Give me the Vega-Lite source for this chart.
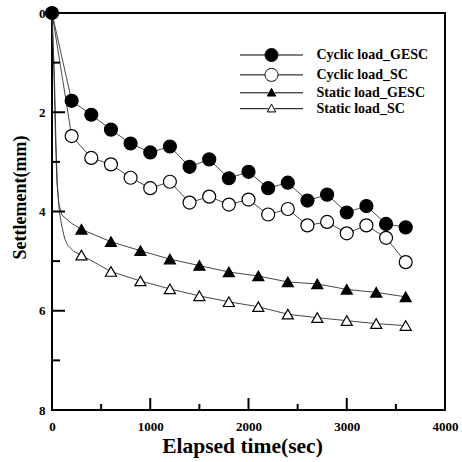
{
  "$schema": "https://vega.github.io/schema/vega-lite/v6.json",
  "autosize": "none",
  "width": 393,
  "height": 397,
  "padding": {"left": 52, "top": 13, "right": 17, "bottom": 52},
  "background": "white",
  "config": {
    "view": {"stroke": "#000", "strokeWidth": 2},
    "font": "Liberation Serif",
    "axis": {
      "domain": false, "grid": false, "ticks": false,
      "labelFont": "Liberation Serif", "labelFontWeight": "bold", "labelFontSize": 13, "labelColor": "#000",
      "labelFlush": false, "format": "d",
      "titleFont": "Liberation Serif", "titleFontWeight": "bold", "titleColor": "#000"
    }
  },
  "datasets": {
    "xticks": [{"t": 500}, {"t": 1000}, {"t": 1500}, {"t": 2000}, {"t": 2500}, {"t": 3000}, {"t": 3500}],
    "yticks": [{"s": 1}, {"s": 2}, {"s": 3}, {"s": 4}, {"s": 5}, {"s": 6}, {"s": 7}],
    "curves": [
      {"series": "Cyclic load_GESC", "t": 0, "s": 0, "kind": "measured"},
      {"series": "Cyclic load_GESC", "t": 200, "s": 1.77, "kind": "measured"},
      {"series": "Cyclic load_GESC", "t": 400, "s": 2.05, "kind": "measured"},
      {"series": "Cyclic load_GESC", "t": 600, "s": 2.35, "kind": "measured"},
      {"series": "Cyclic load_GESC", "t": 800, "s": 2.63, "kind": "measured"},
      {"series": "Cyclic load_GESC", "t": 1000, "s": 2.81, "kind": "measured"},
      {"series": "Cyclic load_GESC", "t": 1200, "s": 2.69, "kind": "measured"},
      {"series": "Cyclic load_GESC", "t": 1400, "s": 3.1, "kind": "measured"},
      {"series": "Cyclic load_GESC", "t": 1600, "s": 2.95, "kind": "measured"},
      {"series": "Cyclic load_GESC", "t": 1800, "s": 3.33, "kind": "measured"},
      {"series": "Cyclic load_GESC", "t": 2000, "s": 3.2, "kind": "measured"},
      {"series": "Cyclic load_GESC", "t": 2200, "s": 3.53, "kind": "measured"},
      {"series": "Cyclic load_GESC", "t": 2400, "s": 3.42, "kind": "measured"},
      {"series": "Cyclic load_GESC", "t": 2600, "s": 3.78, "kind": "measured"},
      {"series": "Cyclic load_GESC", "t": 2800, "s": 3.66, "kind": "measured"},
      {"series": "Cyclic load_GESC", "t": 3000, "s": 4.02, "kind": "measured"},
      {"series": "Cyclic load_GESC", "t": 3200, "s": 3.89, "kind": "measured"},
      {"series": "Cyclic load_GESC", "t": 3400, "s": 4.25, "kind": "measured"},
      {"series": "Cyclic load_GESC", "t": 3600, "s": 4.32, "kind": "measured"},
      {"series": "Cyclic load_SC", "t": 0, "s": 0, "kind": "trace"},
      {"series": "Cyclic load_SC", "t": 200, "s": 2.48, "kind": "measured"},
      {"series": "Cyclic load_SC", "t": 400, "s": 2.92, "kind": "measured"},
      {"series": "Cyclic load_SC", "t": 600, "s": 3.05, "kind": "measured"},
      {"series": "Cyclic load_SC", "t": 800, "s": 3.32, "kind": "measured"},
      {"series": "Cyclic load_SC", "t": 1000, "s": 3.53, "kind": "measured"},
      {"series": "Cyclic load_SC", "t": 1200, "s": 3.4, "kind": "measured"},
      {"series": "Cyclic load_SC", "t": 1400, "s": 3.82, "kind": "measured"},
      {"series": "Cyclic load_SC", "t": 1600, "s": 3.7, "kind": "measured"},
      {"series": "Cyclic load_SC", "t": 1800, "s": 3.86, "kind": "measured"},
      {"series": "Cyclic load_SC", "t": 2000, "s": 3.76, "kind": "measured"},
      {"series": "Cyclic load_SC", "t": 2200, "s": 4.06, "kind": "measured"},
      {"series": "Cyclic load_SC", "t": 2400, "s": 3.95, "kind": "measured"},
      {"series": "Cyclic load_SC", "t": 2600, "s": 4.28, "kind": "measured"},
      {"series": "Cyclic load_SC", "t": 2800, "s": 4.21, "kind": "measured"},
      {"series": "Cyclic load_SC", "t": 3000, "s": 4.44, "kind": "measured"},
      {"series": "Cyclic load_SC", "t": 3200, "s": 4.28, "kind": "measured"},
      {"series": "Cyclic load_SC", "t": 3400, "s": 4.53, "kind": "measured"},
      {"series": "Cyclic load_SC", "t": 3600, "s": 5.02, "kind": "measured"},
      {"series": "Static load_GESC", "t": 0, "s": 0, "kind": "trace"},
      {"series": "Static load_GESC", "t": 20, "s": 1.2, "kind": "trace"},
      {"series": "Static load_GESC", "t": 35, "s": 2.5, "kind": "trace"},
      {"series": "Static load_GESC", "t": 50, "s": 3.4, "kind": "trace"},
      {"series": "Static load_GESC", "t": 70, "s": 3.85, "kind": "trace"},
      {"series": "Static load_GESC", "t": 100, "s": 4.07, "kind": "trace"},
      {"series": "Static load_GESC", "t": 200, "s": 4.24, "kind": "trace"},
      {"series": "Static load_GESC", "t": 300, "s": 4.36, "kind": "measured"},
      {"series": "Static load_GESC", "t": 600, "s": 4.61, "kind": "measured"},
      {"series": "Static load_GESC", "t": 900, "s": 4.79, "kind": "measured"},
      {"series": "Static load_GESC", "t": 1200, "s": 4.96, "kind": "measured"},
      {"series": "Static load_GESC", "t": 1500, "s": 5.09, "kind": "measured"},
      {"series": "Static load_GESC", "t": 1800, "s": 5.22, "kind": "measured"},
      {"series": "Static load_GESC", "t": 2100, "s": 5.3, "kind": "measured"},
      {"series": "Static load_GESC", "t": 2400, "s": 5.42, "kind": "measured"},
      {"series": "Static load_GESC", "t": 2700, "s": 5.46, "kind": "measured"},
      {"series": "Static load_GESC", "t": 3000, "s": 5.57, "kind": "measured"},
      {"series": "Static load_GESC", "t": 3300, "s": 5.63, "kind": "measured"},
      {"series": "Static load_GESC", "t": 3600, "s": 5.72, "kind": "measured"},
      {"series": "Static load_SC", "t": 0, "s": 0, "kind": "trace"},
      {"series": "Static load_SC", "t": 25, "s": 1.3, "kind": "trace"},
      {"series": "Static load_SC", "t": 40, "s": 2.6, "kind": "trace"},
      {"series": "Static load_SC", "t": 55, "s": 3.5, "kind": "trace"},
      {"series": "Static load_SC", "t": 75, "s": 4.0, "kind": "trace"},
      {"series": "Static load_SC", "t": 100, "s": 4.3, "kind": "trace"},
      {"series": "Static load_SC", "t": 130, "s": 4.55, "kind": "trace"},
      {"series": "Static load_SC", "t": 160, "s": 4.68, "kind": "trace"},
      {"series": "Static load_SC", "t": 220, "s": 4.8, "kind": "trace"},
      {"series": "Static load_SC", "t": 300, "s": 4.88, "kind": "measured"},
      {"series": "Static load_SC", "t": 600, "s": 5.21, "kind": "measured"},
      {"series": "Static load_SC", "t": 900, "s": 5.4, "kind": "measured"},
      {"series": "Static load_SC", "t": 1200, "s": 5.56, "kind": "measured"},
      {"series": "Static load_SC", "t": 1500, "s": 5.7, "kind": "measured"},
      {"series": "Static load_SC", "t": 1800, "s": 5.82, "kind": "measured"},
      {"series": "Static load_SC", "t": 2100, "s": 5.92, "kind": "measured"},
      {"series": "Static load_SC", "t": 2400, "s": 6.07, "kind": "measured"},
      {"series": "Static load_SC", "t": 2700, "s": 6.14, "kind": "measured"},
      {"series": "Static load_SC", "t": 3000, "s": 6.2, "kind": "measured"},
      {"series": "Static load_SC", "t": 3300, "s": 6.26, "kind": "measured"},
      {"series": "Static load_SC", "t": 3600, "s": 6.3, "kind": "measured"}
    ]
  },
  "data": {"name": "curves"},
  "layer": [
    {
      "mark": {"type": "line", "color": "#333", "strokeWidth": 0.9},
      "encoding": {
        "x": {
          "field": "t", "type": "quantitative",
          "scale": {"domain": [0, 4000], "nice": false, "zero": false},
          "axis": {
            "orient": "bottom",
            "title": "Elapsed time(sec)",
            "values": [0, 1000, 2000, 3000, 4000],
            "ticks": false,
            "labelPadding": 10,
            "titleFontSize": 21.5,
            "titlePadding": 2,
            "titleX": 190
          }
        },
        "y": {
          "field": "s", "type": "quantitative",
          "scale": {"domain": [0, 8], "reverse": true, "nice": false, "zero": false},
          "axis": {
            "orient": "left",
            "title": "Settlement(mm)",
            "values": [0, 2, 4, 6, 8],
            "ticks": false,
            "labelPadding": 7,
            "titleFontSize": 18,
            "titlePadding": 9,
            "titleY": 184
          }
        },
        "detail": {"field": "series"},
        "order": {"field": "t"}
      }
    },
    {
      "transform": [{"filter": "datum.kind === 'measured'"}],
      "mark": {"type": "point", "filled": true, "stroke": "#000", "strokeWidth": 1.2, "size": 169, "opacity": 1},
      "encoding": {
        "x": {"field": "t", "type": "quantitative", "axis": null},
        "y": {"field": "s", "type": "quantitative", "axis": null},
        "shape": {
          "field": "series", "type": "nominal", "legend": null,
          "scale": {"domain": ["Cyclic load_GESC", "Cyclic load_SC", "Static load_GESC", "Static load_SC"],
                    "range": ["circle", "circle", "M0,-0.75L0.85,0.72L-0.85,0.72Z", "M0,-0.75L0.85,0.72L-0.85,0.72Z"]}
        },
        "fill": {
          "field": "series", "type": "nominal", "legend": null,
          "scale": {"domain": ["Cyclic load_GESC", "Cyclic load_SC", "Static load_GESC", "Static load_SC"],
                    "range": ["#000", "#fff", "#000", "#fff"]}
        }
      }
    },
    {
      "data": {"name": "xticks"},
      "transform": [{"filter": "datum.t % 1000 === 0"}],
      "mark": {"type": "tick", "orient": "vertical", "thickness": 2, "size": 12, "yOffset": -6, "color": "#000", "opacity": 1},
      "encoding": {
        "x": {"field": "t", "type": "quantitative", "axis": null},
        "y": {"datum": 8, "type": "quantitative", "axis": null}
      }
    },
    {
      "data": {"name": "xticks"},
      "transform": [{"filter": "datum.t % 1000 !== 0"}],
      "mark": {"type": "tick", "orient": "vertical", "thickness": 2, "size": 6, "yOffset": -3, "color": "#000", "opacity": 1},
      "encoding": {
        "x": {"field": "t", "type": "quantitative", "axis": null},
        "y": {"datum": 8, "type": "quantitative", "axis": null}
      }
    },
    {
      "data": {"name": "yticks"},
      "transform": [{"filter": "datum.s % 2 === 0"}],
      "mark": {"type": "tick", "orient": "horizontal", "thickness": 2, "size": 13, "xOffset": 6.5, "color": "#000", "opacity": 1},
      "encoding": {
        "x": {"datum": 0, "type": "quantitative", "axis": null},
        "y": {"field": "s", "type": "quantitative", "axis": null}
      }
    },
    {
      "data": {"name": "yticks"},
      "transform": [{"filter": "datum.s % 2 !== 0"}],
      "mark": {"type": "tick", "orient": "horizontal", "thickness": 2, "size": 8, "xOffset": 4, "color": "#000", "opacity": 1},
      "encoding": {
        "x": {"datum": 0, "type": "quantitative", "axis": null},
        "y": {"field": "s", "type": "quantitative", "axis": null}
      }
    },
    {
      "transform": [{"filter": "false"}],
      "mark": {"type": "point", "filled": true, "opacity": 1, "stroke": "#000", "strokeWidth": 1},
      "encoding": {
        "x": {"field": "t", "type": "quantitative", "axis": null},
        "y": {"field": "s", "type": "quantitative", "axis": null},
        "shape": {
          "field": "series", "type": "nominal",
          "scale": {"domain": ["Cyclic load_GESC", "Cyclic load_SC", "Static load_GESC", "Static load_SC"],
                    "range": [
                      "M-4.85,0H-1.05M1.05,0H4.85M-1,0A1,1 0 1,0 1,0A1,1 0 1,0 -1,0Z",
                      "M-4.85,0H-1.05M1.05,0H4.85M-1,0A1,1 0 1,0 1,0A1,1 0 1,0 -1,0Z",
                      "M-4.85,0H-0.5M0.5,0H4.85M0,-0.7L0.65,0.5L-0.65,0.5Z",
                      "M-4.85,0H-0.5M0.5,0H4.85M0,-0.7L0.65,0.5L-0.65,0.5Z"]},
          "legend": {
            "orient": "none", "legendX": 212.5, "legendY": 35, "title": null,
            "symbolSize": 169, "symbolOpacity": 1, "symbolStrokeColor": "#000", "symbolStrokeWidth": 1,
            "labelFont": "Liberation Serif", "labelFontWeight": "bold", "labelFontSize": 14, "labelColor": "#000",
            "labelOffset": 38, "rowPadding": 1.9,
            "encode": {"symbols": {"update": {"stroke": {"value": "#000"}, "strokeWidth": {"value": 1}, "opacity": {"value": 1}}}}
          }
        },
        "fill": {
          "field": "series", "type": "nominal",
          "scale": {"domain": ["Cyclic load_GESC", "Cyclic load_SC", "Static load_GESC", "Static load_SC"],
                    "range": ["#000", "#fff", "#000", "#fff"]},
          "legend": {
            "orient": "none", "legendX": 212.5, "legendY": 35, "title": null,
            "symbolSize": 169, "symbolOpacity": 1, "symbolStrokeColor": "#000", "symbolStrokeWidth": 1,
            "labelFont": "Liberation Serif", "labelFontWeight": "bold", "labelFontSize": 14, "labelColor": "#000",
            "labelOffset": 38, "rowPadding": 1.9,
            "encode": {"symbols": {"update": {"stroke": {"value": "#000"}, "strokeWidth": {"value": 1}, "opacity": {"value": 1}}}}
          }
        }
      }
    }
  ],
  "resolve": {
    "scale": {"shape": "independent", "fill": "independent"},
    "legend": {"shape": "independent", "fill": "independent"},
    "axis": {"x": "independent", "y": "independent"}
  }
}
